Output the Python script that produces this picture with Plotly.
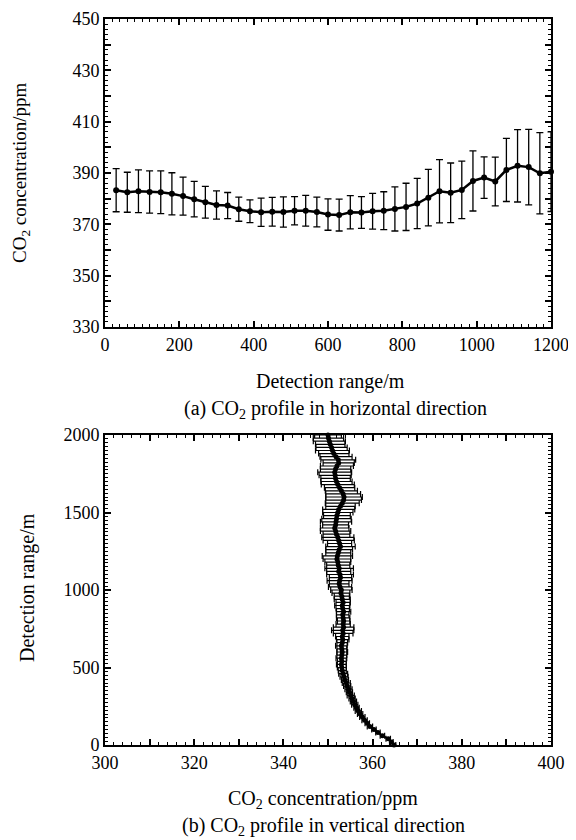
import plotly.graph_objects as go

# ---- (a) horizontal profile ----
h_range = [30, 60, 90, 120, 150, 180, 210, 240, 270, 300, 330, 360, 390, 420, 450, 480, 510, 540, 570, 600,
           630, 660, 690, 720, 750, 780, 810, 840, 870, 900, 930, 960, 990, 1020, 1050, 1080, 1110, 1140, 1170, 1200]
h_co2 = [383.3, 382.5, 382.9, 382.6, 382.5, 381.9, 381.0, 379.8, 378.6, 377.5, 377.3, 375.9, 375.1, 374.7, 374.9,
         374.8, 375.3, 375.3, 374.8, 373.8, 373.6, 374.7, 374.6, 375.1, 375.3, 376.0, 376.8, 378.1, 380.4, 382.9,
         382.3, 383.4, 386.9, 388.2, 386.7, 391.2, 392.8, 392.3, 389.9, 390.5]
h_err = [8.4, 7.8, 8.3, 8.2, 8.3, 8.2, 7.4, 6.9, 6.2, 5.5, 5.1, 4.7, 4.4, 5.5, 5.6,
         5.9, 5.5, 6.0, 5.8, 6.1, 6.2, 6.5, 6.2, 7.0, 7.4, 8.6, 9.2, 9.8, 11.0, 12.3,
         11.6, 11.2, 11.7, 8.1, 9.5, 12.3, 14.1, 14.7, 15.8, 15.5]

# ---- (b) vertical profile ----
v_alt = [0, 20, 40, 60, 80, 100, 120, 140, 160, 180, 200, 220, 240, 260, 280, 300, 320, 340, 360, 380,
         400, 420, 440, 460, 480, 500, 520, 540, 560, 580, 600, 620, 640, 660, 680, 700, 720, 740, 760, 780,
         800, 820, 840, 860, 880, 900, 920, 940, 960, 980, 1000, 1020, 1040, 1060, 1080, 1100, 1120, 1140, 1160, 1180,
         1200, 1220, 1240, 1260, 1280, 1300, 1320, 1340, 1360, 1380, 1400, 1420, 1440, 1460, 1480, 1500, 1520, 1540, 1560, 1580,
         1600, 1620, 1640, 1660, 1680, 1700, 1720, 1740, 1760, 1780, 1800, 1820, 1840, 1860, 1880, 1900, 1920, 1940, 1960, 1980, 2000]
v_co2 = [364.8, 364.2, 363.5, 362.2, 361.2, 360.3, 359.4, 358.8, 358.2, 357.7,
         357.2, 356.8, 356.4, 356.0, 355.7, 355.4, 355.1, 354.8, 354.6, 354.3,
         354.1, 353.8, 353.6, 353.4, 353.2, 353.1, 353.0, 353.1, 353.0, 353.1,
         353.2, 353.1, 353.0, 353.2, 353.3, 353.2, 353.4, 353.3, 353.5, 353.4,
         353.5, 353.4, 353.3, 353.5, 353.3, 353.2, 353.4, 353.2, 353.1, 352.9,
         353.0, 352.7, 352.5, 352.6, 352.8, 352.7, 352.4, 352.5, 352.3, 352.2,
         352.0, 352.1, 352.3, 352.5, 352.8, 352.6, 352.4, 352.2, 351.9, 351.7,
         351.5, 351.7, 351.8, 351.9, 352.0, 352.2, 352.4, 352.8, 353.2, 353.5,
         353.6, 353.4, 353.0, 352.6, 352.2, 351.9, 351.7, 351.6, 351.5, 351.7,
         352.0, 352.4, 352.3, 351.8, 351.3, 351.0, 350.8, 350.5, 350.3, 350.1, 350.0]
v_err = [0.4, 0.4, 0.5, 0.5, 0.5, 0.5, 0.6, 0.5, 0.6, 0.6,
         0.6, 0.7, 0.6, 0.7, 0.7, 0.7, 0.8, 0.7, 0.8, 0.8,
         0.9, 0.8, 0.9, 1.0, 0.9, 1.0, 1.1, 1.0, 1.2, 1.1,
         1.2, 1.1, 1.3, 1.2, 1.4, 1.5, 2.2, 2.5, 2.3, 1.6,
         1.4, 1.5, 1.4, 1.6, 1.5, 1.7, 1.6, 1.8, 1.7, 2.0,
         2.4, 2.6, 2.2, 2.8, 2.5, 3.0, 2.7, 3.2, 2.6, 2.9,
         3.1, 3.4, 2.8, 3.0, 3.3, 2.7, 3.5, 3.6, 3.0, 3.4,
         3.2, 2.9, 3.5, 3.3, 3.0, 3.4, 3.6, 3.3, 3.8, 4.0,
         4.1, 3.9, 3.6, 3.4, 3.7, 3.5, 3.3, 3.6, 3.8, 3.4,
         3.7, 3.5, 3.9, 3.6, 3.4, 3.8, 3.5, 3.3, 3.6, 3.4, 3.0]

# tick labels
top_y_ticks = list(range(330, 451, 10))
top_y_text = [str(v) if (v - 330) % 20 == 0 else "" for v in top_y_ticks]
bot_x_ticks = list(range(300, 401, 10))
bot_x_text = [str(v) if v % 20 == 0 else "" for v in bot_x_ticks]

FONT = "Liberation Serif"
BLACK = "#000000"

# the page places the figure 8 px in from the window corner
OFF = 8
W, H = 576 - OFF, 840 - OFF

def fx(px):
    return (px - OFF) / W

def fy(py):
    return 1 - (py - OFF) / H

fig = go.Figure()

fig.add_trace(go.Scatter(
    x=h_range, y=h_co2, mode="lines+markers",
    line=dict(color=BLACK, width=2.5),
    marker=dict(color=BLACK, size=6),
    error_y=dict(type="data", array=h_err, visible=True, color=BLACK, thickness=1.3, width=3.5),
    xaxis="x", yaxis="y", showlegend=False, cliponaxis=False,
))

fig.add_trace(go.Scatter(
    x=v_co2, y=v_alt, mode="lines+markers",
    line=dict(color=BLACK, width=2),
    marker=dict(color=BLACK, size=5),
    error_x=dict(type="data", array=v_err, visible=True, color=BLACK, thickness=1.2, width=3),
    xaxis="x2", yaxis="y2", showlegend=False, cliponaxis=False,
))

axis_common = dict(
    showline=True, linecolor=BLACK, linewidth=2, mirror="allticks",
    ticks="inside", ticklen=6, tickwidth=1.5, tickcolor=BLACK,
    showgrid=False, zeroline=False, automargin=False,
    tickfont=dict(family=FONT, size=18, color=BLACK),
)
minor_common = dict(ticks="inside", ticklen=3, tickwidth=1, tickcolor=BLACK, showgrid=False)

fig.update_layout(
    template="none",
    width=W, height=H,
    margin=dict(l=0, r=0, t=0, b=0, pad=0, autoexpand=False),
    paper_bgcolor="white", plot_bgcolor="white",
    font=dict(family=FONT, size=18, color=BLACK),
    xaxis=dict(domain=[fx(105), fx(551)], anchor="y", range=[0, 1200],
               tickmode="linear", tick0=0, dtick=200,
               minor=dict(dtick=20, **minor_common), **axis_common),
    yaxis=dict(domain=[fy(327), fy(19)], anchor="x", range=[330, 450],
               tickmode="array", tickvals=top_y_ticks, ticktext=top_y_text,
               minor=dict(dtick=2, **minor_common), **axis_common),
    xaxis2=dict(domain=[fx(105), fx(551)], anchor="y2", range=[300, 400],
                tickmode="array", tickvals=bot_x_ticks, ticktext=bot_x_text,
                minor=dict(dtick=2, **minor_common), **axis_common),
    yaxis2=dict(domain=[fy(745), fy(435)], anchor="x2", range=[0, 2000],
                tickmode="linear", tick0=0, dtick=500,
                minor=dict(dtick=25, **minor_common), **axis_common),
)

def cap(text, x, y, angle=0, size=20):
    fig.add_annotation(text=text, x=fx(x), y=fy(y), xref="paper", yref="paper",
                       showarrow=False, textangle=angle, xanchor="center", yanchor="middle",
                       font=dict(family=FONT, size=size, color=BLACK))

cap("Detection range/m", 330, 381)
cap("(a) CO<sub>2</sub> profile in horizontal direction", 335, 410)
cap("CO<sub>2</sub> concentration/ppm", 21, 173, angle=-90, size=19)
cap("CO<sub>2</sub> concentration/ppm", 323, 799)
cap("(b) CO<sub>2</sub> profile in vertical direction", 323, 826)
cap("Detection range/m", 27, 588, angle=-90)

fig.write_html("out.html")
